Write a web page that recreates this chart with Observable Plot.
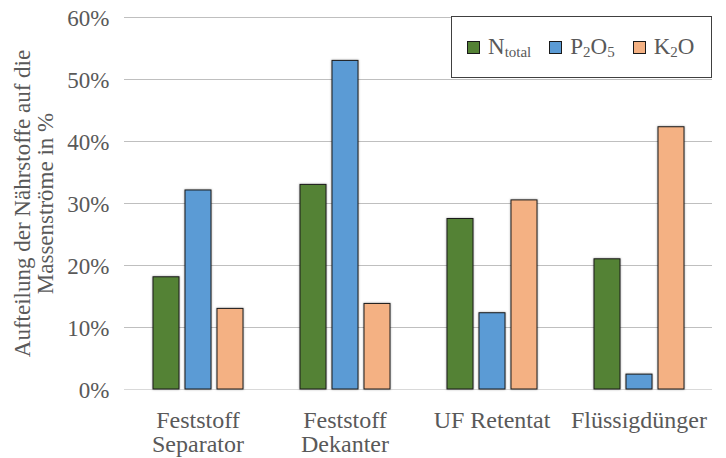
<!DOCTYPE html>
<html><head><meta charset="utf-8">
<script src="https://cdn.jsdelivr.net/npm/d3@7"></script>
<script src="https://cdn.jsdelivr.net/npm/@observablehq/plot@0.6"></script>
<style>
body{margin:0;background:#fff;}
#wrap{position:relative;width:726px;height:458px;font-family:"Liberation Serif","DejaVu Serif",serif;}
#legend{position:absolute;left:451px;top:16px;width:261px;height:62px;border:1px solid #404040;background:#fff;display:flex;align-items:center;box-sizing:border-box;padding-left:15px;font-size:23px;color:#595959;}
#legend .item{display:flex;align-items:center;margin-right:18px;}
#legend .sw{width:11px;height:11px;border:1px solid #1a1a1a;margin-right:8px;}
#legend sub{font-size:15px;vertical-align:-3px;}
svg g[aria-label="bar"] rect{filter:drop-shadow(0px 0px 1px rgba(0,0,0,0.35));}
</style></head>
<body><div id="wrap"></div>
<script>
const categories = ["Feststoff\nSeparator", "Feststoff\nDekanter", "UF Retentat", "Flüssigdünger"];
const seriesKeys = ["N_total", "P2O5", "K2O"];
const seriesColors = ["#548235", "#5B9BD5", "#F4B183"];
const nTotal = [18.1, 33.0, 27.5, 21.0];
const p2o5 = [32.1, 53.0, 12.3, 2.4];
const k2o = [13.0, 13.8, 30.5, 42.3];
const yTicks = [0, 0.1, 0.2, 0.3, 0.4, 0.5, 0.6];
const yLabel = "Aufteilung der Nährstoffe auf die\nMassenströme in %";

const seriesValues = [nTotal, p2o5, k2o];
const data = categories.flatMap((c, i) => seriesKeys.map((s, j) => ({cat: c, s, v: seriesValues[j][i] / 100})));

const chart = Plot.plot({
  width: 726, height: 458,
  marginLeft: 124, marginRight: 14, marginTop: 17, marginBottom: 69,
  style: {fontFamily: '"Liberation Serif","DejaVu Serif",serif', fontSize: "23px", color: "#595959", background: "transparent"},
  fx: {domain: categories, padding: 0, label: null},
  x: {domain: seriesKeys, axis: null, paddingInner: 0.1875, paddingOuter: 0.89},
  y: {domain: [0, 0.6]},
  color: {domain: seriesKeys, range: seriesColors},
  marks: [
    Plot.gridY(yTicks.filter(d => d > 0), {stroke: "#bfbfbf", strokeOpacity: 1}),
    Plot.ruleY([0], {stroke: "#d9d9d9"}),
    Plot.axisY(yTicks, {tickSize: 0, tickPadding: 15, tickFormat: d3.format(".0%"), label: yLabel, labelAnchor: "center", labelArrow: false, labelOffset: 111, lineHeight: 1.1}),
    Plot.axisFx({anchor: "bottom", tickSize: 0, tickPadding: 21, fontSize: 24, lineHeight: 1.0, label: null}),
    Plot.barY(data, {fx: "cat", x: "s", y: "v", fill: "s", stroke: "#1a1a1a", strokeWidth: 1})
  ]
});
const wrap = document.getElementById("wrap");
wrap.appendChild(chart);
const legend = document.createElement("div");
legend.id = "legend";
const labels = ["N<sub>total</sub>", "P<sub>2</sub>O<sub>5</sub>", "K<sub>2</sub>O"];
legend.innerHTML = seriesKeys.map((k, i) => `<div class="item"><div class="sw" style="background:${seriesColors[i]}"></div><span>${labels[i]}</span></div>`).join("");
wrap.appendChild(legend);
</script>
</body></html>
